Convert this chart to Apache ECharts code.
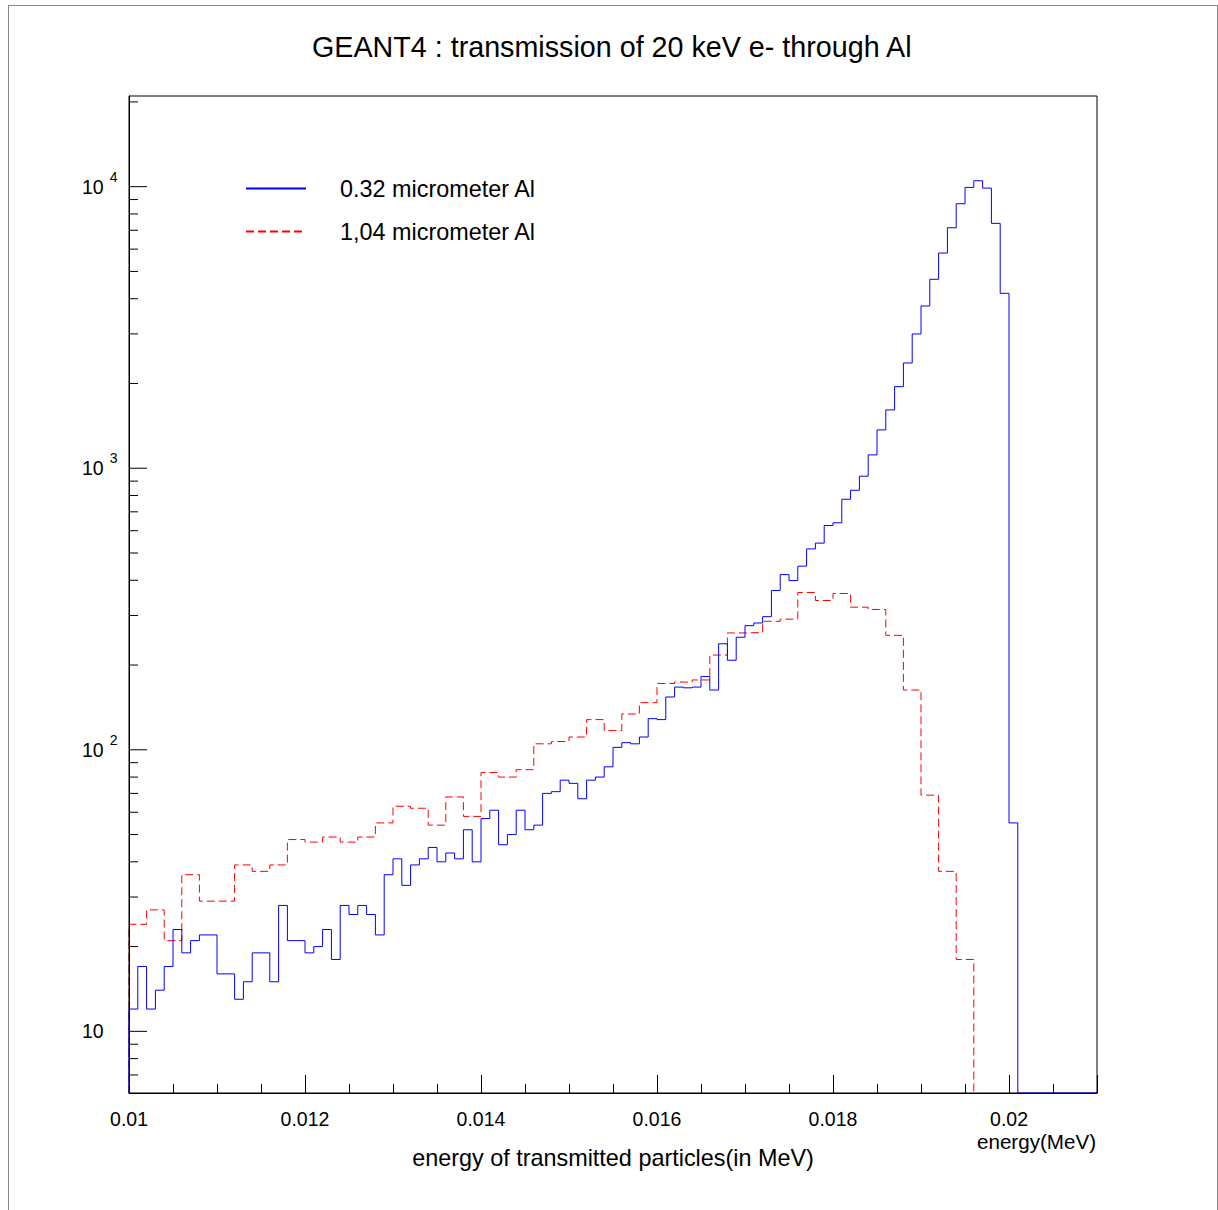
<!DOCTYPE html>
<html>
<head>
<meta charset="utf-8">
<script src="https://cdn.jsdelivr.net/npm/echarts@6/dist/echarts.min.js"></script>
<style>
html,body{margin:0;padding:0;background:#fff;}
#c{width:1218px;height:1210px;}
</style>
</head>
<body>
<div id="c"></div>
<script>
// ---------------- data ----------------
const titleText = 'GEANT4 : transmission of 20 keV e- through Al';
const seriesNames = ['0.32 micrometer Al', '1,04 micrometer Al'];
const xAxisTitle = 'energy of transmitted particles(in MeV)';
const xUnitLabel = 'energy(MeV)';

const xMin = 0.01;
const xMax = 0.021;
const blueBinWidth = 0.0001;
const redBinWidth = 0.0002;

// counts per bin, 0.32 micrometer Al (bins of 0.0001 MeV starting at 0.01)
const blueCounts = [
  12, 17, 12, 14, 17, 23, 19, 21, 22, 22,
  16, 16, 13, 15, 19, 19, 15, 28, 21, 21,
  19, 20, 23, 18, 28, 26, 28, 26, 22, 36,
  41, 33, 39, 41, 45, 40, 43, 41, 52, 40,
  57, 61, 46, 50, 61, 52, 54, 70, 71, 78,
  76, 67, 78, 80, 87, 102, 106, 105, 111, 129,
  128, 154, 167, 166, 167, 182, 163, 238, 208, 251,
  276, 282, 297, 368, 419, 399, 449, 517, 542, 626,
  640, 776, 835, 937, 1115, 1368, 1611, 1949, 2365, 2998,
  3769, 4688, 5812, 7145, 8697, 9942, 10495, 9886, 7407, 4180,
  55, 0, 0, 0, 0, 0, 0, 0, 0, 0
];

// counts per bin, 1,04 micrometer Al (bins of 0.0002 MeV starting at 0.01)
const redCounts = [
  24, 27, 21, 36, 29, 29, 39, 37, 39, 48,
  47, 49, 47, 49, 55, 63, 62, 54, 68, 58,
  83, 80, 85, 105, 107, 111, 128, 117, 134, 147,
  172, 174, 177, 217, 260, 261, 286, 291, 362, 339,
  359, 321, 315, 255, 163, 69, 37, 18, 0, 0,
  0, 0, 0, 0, 0
];

const yTickDecades = [10, 100, 1000, 10000];
const yMin = 6.04;
const yMax = 20990;

// ---------------- chart ----------------
const FONT = '"Liberation Sans", Arial, Helvetica, sans-serif';

// step outline of a histogram; zero bins lie on the bottom of the frame
function histPoints(counts, w, drawTrailingZeros) {
  let n = counts.length;
  if (!drawTrailingZeros) {
    while (n > 0 && counts[n - 1] === 0) n--;
  }
  const pts = [[xMin, yMin]];
  for (let i = 0; i < n; i++) {
    pts.push([+(xMin + i * w).toFixed(6), Math.max(counts[i], yMin)]);
  }
  if (drawTrailingZeros) {
    pts.push([+(xMin + n * w).toFixed(6), Math.max(counts[n - 1], yMin)]);
  } else {
    pts.push([+(xMin + n * w).toFixed(6), yMin]);
  }
  return pts;
}

// y axis tick marks (ROOT style: major at decades, minor at 2..9)
const yTicks = [];
[7, 8, 9].forEach(v => { if (v >= yMin) yTicks.push([xMin, v, 0]); });
yTickDecades.forEach(d => {
  yTicks.push([xMin, d, 1]);
  for (let m = 2; m <= 9; m++) {
    if (d * m <= yMax) yTicks.push([xMin, d * m, 0]);
  }
});

function isPow10(v) {
  const l = Math.log10(v);
  return Math.abs(l - Math.round(l)) < 1e-6;
}

const chart = echarts.init(document.getElementById('c'), null, {renderer: 'svg', width: 1218, height: 1210});

const option = {
  animation: false,
  backgroundColor: '#ffffff',
  title: {
    text: titleText,
    left: 312,
    top: 32,
    padding: 0,
    textStyle: {fontFamily: FONT, fontSize: 28.7, fontWeight: 'normal', color: '#000'}
  },
  legend: {
    orient: 'vertical',
    left: 245,
    top: 177,
    padding: 0,
    itemWidth: 60,
    itemHeight: 14,
    itemGap: 20,
    selectedMode: false,
    data: seriesNames,
    itemStyle: {opacity: 0, color: 'rgba(0,0,0,0)', borderColor: 'rgba(0,0,0,0)', borderWidth: 0},
    textStyle: {fontFamily: FONT, fontSize: 23.4, color: '#000', padding: [0, 0, 0, 29]}
  },
  grid: {
    left: 129, top: 96, right: 121, bottom: 117,
    show: true, borderColor: '#000', borderWidth: 1,
    backgroundColor: 'transparent',
    containLabel: false,
    outerBoundsMode: 'none'
  },
  xAxis: {
    type: 'value',
    min: xMin,
    max: xMax,
    interval: 0.002,
    name: xAxisTitle,
    nameLocation: 'middle',
    nameGap: 53,
    nameTextStyle: {fontFamily: FONT, fontSize: 23.4, color: '#000'},
    axisLine: {show: true, lineStyle: {color: '#000', width: 1}},
    axisTick: {show: true, inside: true, length: 18, lineStyle: {color: '#000', width: 1}},
    minorTick: {show: true, splitNumber: 4, length: 9, lineStyle: {color: '#000', width: 1}},
    splitLine: {show: false},
    minorSplitLine: {show: false},
    axisLabel: {
      margin: 16,
      fontFamily: FONT,
      fontSize: 19.5,
      lineHeight: 19,
      color: '#000',
      showMaxLabel: false,
      formatter: function (v) {
        const k = v / 0.002;
        if (Math.abs(k - Math.round(k)) > 1e-6) return '';
        return String(+v.toFixed(4));
      }
    }
  },
  yAxis: {
    type: 'log',
    logBase: 10,
    min: yMin,
    max: yMax,
    axisLine: {show: true, lineStyle: {color: '#000', width: 1}},
    axisTick: {show: false},
    minorTick: {show: false},
    splitLine: {show: false},
    minorSplitLine: {show: false},
    axisLabel: {
      align: 'left',
      margin: 47,
      formatter: function (v) {
        if (!isPow10(v)) return '';
        const e = Math.round(Math.log10(v));
        if (e === 1) return '{b|10}';
        return '{b|10}{s|' + e + '}';
      },
      rich: {
        b: {fontFamily: FONT, fontSize: 19.5, lineHeight: 34, color: '#000'},
        s: {fontFamily: FONT, fontSize: 14, lineHeight: 14, verticalAlign: 'top', padding: [0, 0, 0, 6], color: '#000'}
      }
    }
  },
  series: [
    {
      name: seriesNames[1],
      type: 'line',
      step: 'end',
      data: histPoints(redCounts, redBinWidth, false),
      symbol: 'none',
      showSymbol: false,
      clip: true,
      silent: true,
      z: -1,
      lineStyle: {color: '#ff0000', width: 1, type: [8, 4]},
      itemStyle: {color: '#ff0000'}
    },
    {
      name: seriesNames[0],
      type: 'line',
      step: 'end',
      data: histPoints(blueCounts, blueBinWidth, true),
      symbol: 'none',
      showSymbol: false,
      clip: true,
      silent: true,
      z: 4,
      lineStyle: {color: '#0000ff', width: 1},
      itemStyle: {color: '#0000ff'}
    },
    {
      type: 'custom',
      silent: true,
      z: 5,
      clip: false,
      data: yTicks,
      renderItem: function (params, api) {
        const p = api.coord([api.value(0), api.value(1)]);
        const len = api.value(2) ? 18 : 9;
        return {
          type: 'line',
          shape: {x1: p[0], y1: p[1], x2: p[0] + len, y2: p[1]},
          style: {stroke: '#000', lineWidth: 1}
        };
      }
    }
  ],
  graphic: [
    {type: 'line', silent: true, shape: {x1: 8.5, y1: 5, x2: 8.5, y2: 1210}, style: {stroke: '#888', lineWidth: 1}},
    {type: 'line', silent: true, shape: {x1: 8, y1: 5.5, x2: 1218, y2: 5.5}, style: {stroke: '#888', lineWidth: 1}},
    {type: 'line', silent: true, shape: {x1: 1217.5, y1: 5, x2: 1217.5, y2: 1210}, style: {stroke: '#888', lineWidth: 1}},
    {
      type: 'text', silent: true,
      style: {text: xUnitLabel, x: 1096, y: 1141, align: 'right', verticalAlign: 'middle',
              fontFamily: FONT, fontSize: 20.6, lineHeight: 20, fill: '#000'}
    }
  ]
};

chart.setOption(option);
</script>
</body>
</html>
